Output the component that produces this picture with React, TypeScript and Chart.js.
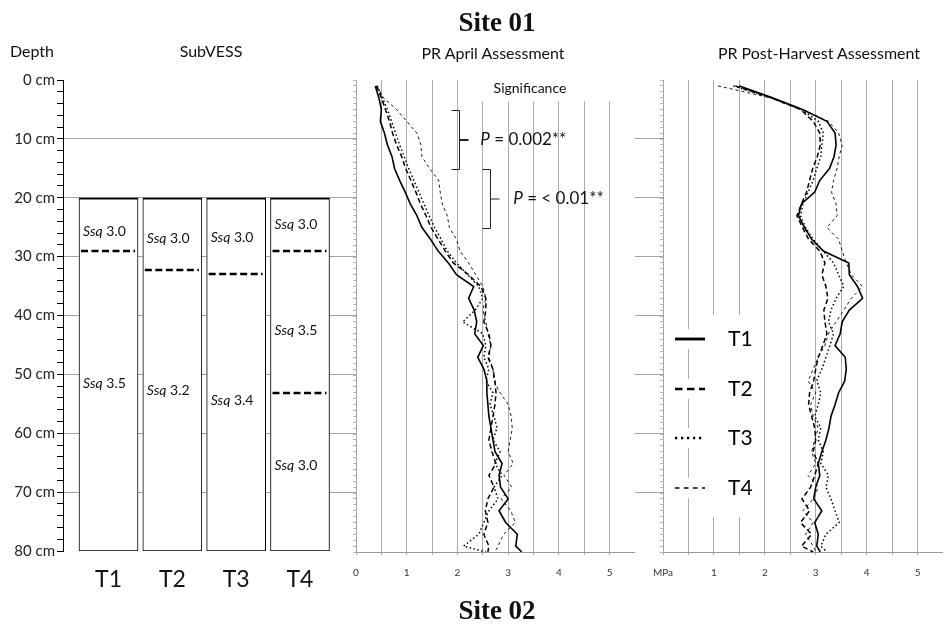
import React, { useEffect, useRef } from 'react';
import { Chart, registerables } from 'chart.js';

Chart.register(...registerables);

const FONT = 'Lato, "Open Sans", sans-serif';

// ---------- SubVESS panel ----------
const TREATMENTS = ['T1', 'T2', 'T3', 'T4'];
const TREATMENT_INDEX = [1, 2, 3, 4];
const SUBVESS_RANGE = [20, 80];
const LAYER_BOUNDARIES = [[29.1], [32.2], [32.9], [29.1, 53.1]];
const SSQ_LABEL_DEPTHS = [[25.8, 51.5], [26.9, 52.8], [26.7, 54.4], [24.6, 42.5, 65.4]];
const SSQ_SCORES = [['3.0', '3.5'], ['3.0', '3.2'], ['3.0', '3.4'], ['3.0', '3.5', '3.0']];

// ---------- Penetration resistance profiles (MPa) ----------
const DEPTHS = [1, 3, 5, 7, 9, 11, 13, 15, 17, 19, 21, 23, 25, 27, 29, 31, 33, 35, 37, 39, 41, 43, 45, 47, 49, 51, 53, 55, 57, 59, 61, 63, 65, 67, 69, 71, 73, 75, 77, 79, 80];

const APR_T1 = [0.38, 0.45, 0.50, 0.48, 0.56, 0.62, 0.71, 0.76, 0.86, 0.97, 1.07, 1.20, 1.30, 1.47, 1.62, 1.82, 1.98, 2.32, 2.22, 2.33, 2.38, 2.34, 2.51, 2.40, 2.52, 2.58, 2.58, 2.60, 2.62, 2.66, 2.70, 2.74, 2.88, 2.82, 2.85, 3.00, 2.82, 2.95, 3.18, 3.15, 3.27];
const APR_T2 = [0.40, 0.50, 0.58, 0.66, 0.72, 0.80, 0.90, 0.98, 1.08, 1.18, 1.27, 1.38, 1.48, 1.62, 1.76, 1.92, 2.22, 2.46, 2.56, 2.56, 2.52, 2.62, 2.66, 2.60, 2.70, 2.74, 2.76, 2.74, 2.70, 2.66, 2.62, 2.68, 2.76, 2.62, 2.72, 2.60, 2.55, 2.60, 2.52, 2.62, 2.60];
const APR_T3 = [0.42, 0.52, 0.62, 0.70, 0.78, 0.86, 0.95, 1.04, 1.14, 1.24, 1.34, 1.44, 1.55, 1.68, 1.80, 1.98, 2.20, 2.42, 2.50, 2.35, 2.10, 2.50, 2.56, 2.52, 2.62, 2.56, 2.70, 2.64, 2.72, 2.78, 2.70, 2.84, 2.74, 2.88, 2.72, 2.80, 2.62, 2.52, 2.42, 2.12, 2.56];
const APR_T4 = [0.41, 0.54, 0.80, 1.00, 1.20, 1.28, 1.30, 1.45, 1.63, 1.66, 1.70, 1.80, 1.84, 1.98, 2.05, 2.22, 2.36, 2.50, 2.56, 2.50, 2.56, 2.60, 2.66, 2.62, 2.70, 2.72, 2.84, 3.00, 3.06, 3.08, 3.04, 3.00, 3.10, 2.92, 3.07, 2.86, 3.05, 3.14, 2.91, 2.80, 2.74];

const PH_T1 = [1.50, 2.15, 2.74, 3.22, 3.38, 3.40, 3.36, 3.27, 3.08, 2.98, 2.72, 2.66, 2.78, 2.92, 3.15, 3.65, 3.66, 3.82, 3.92, 3.66, 3.52, 3.48, 3.38, 3.58, 3.60, 3.57, 3.45, 3.38, 3.30, 3.26, 3.20, 3.12, 3.05, 3.08, 3.00, 2.96, 3.12, 2.98, 3.05, 3.02, 3.09];
const PH_T2 = [1.42, 2.12, 2.70, 2.95, 3.08, 3.09, 3.03, 2.94, 2.88, 2.82, 2.72, 2.63, 2.74, 2.86, 3.08, 3.18, 3.12, 3.20, 3.24, 3.16, 3.18, 3.22, 3.14, 3.05, 3.00, 2.96, 2.88, 2.86, 2.92, 2.98, 3.00, 2.95, 3.05, 2.98, 2.90, 2.73, 2.88, 2.70, 2.92, 2.72, 2.95];
const PH_T3 = [1.38, 2.12, 2.72, 3.05, 3.15, 3.12, 3.10, 3.02, 2.95, 2.85, 2.75, 2.70, 2.80, 2.95, 3.15, 3.35, 3.45, 3.55, 3.40, 3.30, 3.25, 3.35, 3.28, 3.20, 3.12, 3.02, 3.10, 3.05, 2.98, 3.10, 3.05, 3.15, 3.10, 3.25, 3.20, 3.30, 3.38, 3.46, 3.20, 3.10, 3.22];
const PH_T4 = [1.08, 2.10, 2.74, 3.25, 3.45, 3.52, 3.46, 3.42, 3.35, 3.31, 3.40, 3.42, 3.22, 3.45, 3.52, 3.60, 3.70, 3.92, 3.70, 3.55, 3.40, 3.25, 3.18, 3.05, 2.95, 2.85, 3.00, 2.90, 2.95, 3.05, 2.98, 2.92, 3.00, 2.85, 3.05, 2.95, 2.75, 2.95, 2.80, 2.95, 3.00];

const SIG_RANGES = [[5, 15], [15, 25]];
const SIG_TEXT = ['= 0.002**', '= < 0.01**'];

const LINE_STYLES = [
  { width: 1.6, dash: [] as number[] },
  { width: 1.5, dash: [5, 3] },
  { width: 1.5, dash: [1.5, 2.5] },
  { width: 0.9, dash: [3, 3] },
];

const whiteAreaPlugin = {
  id: 'whiteArea',
  beforeDraw(chart: any) {
    const { ctx, chartArea: a } = chart;
    ctx.save();
    ctx.fillStyle = '#fff';
    ctx.fillRect(a.left, a.top, a.right - a.left, a.bottom - a.top);
    ctx.restore();
  },
};

const subvessPlugin = {
  id: 'subvessMarks',
  afterDatasetsDraw(chart: any) {
    const { ctx } = chart;
    const xs = chart.scales.x;
    const ys = chart.scales.y;
    const half = 29.5;
    ctx.save();
    TREATMENT_INDEX.forEach((pos, i) => {
      const cx = xs.getPixelForValue(pos);
      ctx.strokeStyle = '#000';
      ctx.lineWidth = 2.5;
      ctx.setLineDash([7, 3.5]);
      LAYER_BOUNDARIES[i].forEach((d) => {
        const py = Math.round(ys.getPixelForValue(d));
        ctx.beginPath();
        ctx.moveTo(cx - half + 2, py);
        ctx.lineTo(cx + half - 3, py);
        ctx.stroke();
      });
      ctx.setLineDash([]);
      ctx.fillStyle = '#111';
      ctx.textAlign = 'left';
      ctx.textBaseline = 'middle';
      SSQ_LABEL_DEPTHS[i].forEach((d, j) => {
        const py = ys.getPixelForValue(d);
        const x0 = cx - half + 4;
        ctx.font = `italic 14px ${FONT}`;
        ctx.fillText('Ssq', x0, py);
        const w = ctx.measureText('Ssq').width;
        ctx.font = `14px ${FONT}`;
        ctx.fillText(' ' + SSQ_SCORES[i][j], x0 + w, py);
      });
    });
    ctx.restore();
  },
};

const significancePlugin = {
  id: 'significance',
  beforeDatasetsDraw(chart: any) {
    const { ctx, chartArea } = chart;
    const xs = chart.scales.x;
    const ys = chart.scales.y;
    const l = xs.getPixelForValue(2.1);
    const r = xs.getPixelForValue(5.44);
    const t = chartArea.top;
    const b = ys.getPixelForValue(3.6);
    ctx.save();
    ctx.fillStyle = '#fff';
    ctx.fillRect(l, t, r - l, b - t);
    ctx.fillStyle = '#111';
    ctx.font = `14px ${FONT}`;
    ctx.textAlign = 'center';
    ctx.textBaseline = 'middle';
    ctx.fillText('Significance', xs.getPixelForValue(3.43), ys.getPixelForValue(1.4));
    ctx.restore();
  },
  afterDatasetsDraw(chart: any) {
    const { ctx } = chart;
    const xs = chart.scales.x;
    const ys = chart.scales.y;
    const bracketX = [2.03, 2.64];
    const textX = [2.45, 3.1];
    ctx.save();
    SIG_RANGES.forEach(([d0, d1], i) => {
      const x = Math.round(xs.getPixelForValue(bracketX[i])) + 0.5;
      const y0 = Math.round(ys.getPixelForValue(d0)) + 0.5;
      const y1 = Math.round(ys.getPixelForValue(d1)) + 0.5;
      const ym = (y0 + y1) / 2;
      ctx.strokeStyle = '#222';
      ctx.lineWidth = 1;
      ctx.beginPath();
      ctx.moveTo(x - 8, y0);
      ctx.lineTo(x, y0);
      ctx.lineTo(x, y1);
      ctx.lineTo(x - 8, y1);
      ctx.stroke();
      ctx.lineWidth = i === 0 ? 2 : 1;
      ctx.beginPath();
      ctx.moveTo(x, ym);
      ctx.lineTo(x + 9, ym);
      ctx.stroke();
      let tx = xs.getPixelForValue(textX[i]);
      ctx.fillStyle = '#111';
      ctx.textAlign = 'left';
      ctx.textBaseline = 'middle';
      ctx.font = `italic 17px ${FONT}`;
      ctx.fillText('P', tx, ym);
      tx += ctx.measureText('P').width;
      ctx.font = `17px ${FONT}`;
      ctx.fillText(' ' + SIG_TEXT[i], tx, ym);
    });
    ctx.restore();
  },
};

const legendPlugin = {
  id: 'profileLegend',
  beforeDatasetsDraw(chart: any) {
    const { ctx, chartArea } = chart;
    const left = chartArea.left;
    const top = chartArea.top;
    ctx.save();
    ctx.fillStyle = '#fff';
    ctx.fillRect(left + 35, top + 235, 60, 202);
    chart.data.datasets.forEach((ds: any, i: number) => {
      const y = Math.round(top + 259 + i * 49.5);
      ctx.fillStyle = '#fff';
      ctx.fillRect(left + 4, y - 10, 44, 20);
      ctx.strokeStyle = ds.borderColor;
      ctx.lineWidth = ds.borderWidth * 1.8;
      ctx.setLineDash((ds.borderDash || []).map((v: number) => v * 1.5));
      ctx.beginPath();
      ctx.moveTo(left + 12, y);
      ctx.lineTo(left + 42, y);
      ctx.stroke();
      ctx.setLineDash([]);
      ctx.fillStyle = '#000';
      ctx.font = `21px ${FONT}`;
      ctx.textAlign = 'left';
      ctx.textBaseline = 'middle';
      ctx.fillText(ds.label, left + 65, y);
    });
    ctx.restore();
  },
};

function subvessConfig(): any {
  return {
    type: 'bar',
    data: {
      datasets: [
        {
          label: 'SubVESS',
          data: TREATMENT_INDEX.map((p) => ({ x: p, y: SUBVESS_RANGE })),
          backgroundColor: '#fff',
          borderColor: '#000',
          borderWidth: { top: 2, right: 1, bottom: 1, left: 1 },
          borderSkipped: false,
          barThickness: 59,
        },
      ],
    },
    options: {
      animation: false,
      responsive: false,
      maintainAspectRatio: false,
      layout: { padding: { top: 80, left: 0, right: 2, bottom: 0 } },
      plugins: { legend: { display: false }, tooltip: { enabled: false } },
      scales: {
        x: {
          type: 'linear',
          min: 0.287,
          max: 14.074,
          offset: false,
          afterFit: (s: any) => { s.height = 75; s.paddingLeft = 0; s.paddingRight = 0; },
          afterBuildTicks: (s: any) => { s.ticks = TREATMENT_INDEX.map((v) => ({ value: v })); },
          ticks: {
            autoSkip: false,
            maxRotation: 0,
            padding: 15,
            color: '#111',
            font: { family: FONT, size: 23 },
            callback: (v: any) => TREATMENTS[Math.round(v) - 1] ?? '',
          },
          grid: { display: false, drawTicks: false, offset: false },
          border: { display: false },
        },
        y: {
          reverse: true,
          min: 0,
          max: 80,
          afterFit: (s: any) => { s.width = 63; },
          ticks: {
            stepSize: 2,
            autoSkip: false,
            padding: 2,
            color: '#222',
            font: { family: FONT, size: 15 },
            callback: (v: any) => (v % 10 === 0 ? `${v} cm` : ''),
          },
          grid: {
            color: (c: any) => {
              const v = c.tick ? c.tick.value : -1;
              return v % 10 === 0 && v > 0 && v < 80 ? '#a3a3a3' : 'rgba(0,0,0,0)';
            },
            tickColor: '#000',
            tickLength: 6,
          },
          border: { color: '#000' },
        },
      },
    },
    plugins: [subvessPlugin],
  };
}

function profileConfig(series: number[][], zeroLabel: string, extra: any[]): any {
  return {
    type: 'line',
    data: {
      datasets: TREATMENTS.map((t, i) => ({
        label: t,
        data: DEPTHS.map((d, k) => ({ x: series[i][k], y: d })),
        borderColor: '#000',
        borderWidth: LINE_STYLES[i].width,
        borderDash: LINE_STYLES[i].dash,
        pointRadius: 0,
        fill: false,
        tension: 0,
      })),
    },
    options: {
      animation: false,
      responsive: false,
      maintainAspectRatio: false,
      layout: { padding: { top: 80, left: 0, right: 0, bottom: 0 } },
      plugins: { legend: { display: false }, tooltip: { enabled: false } },
      scales: {
        x: {
          type: 'linear',
          position: 'bottom',
          min: 0,
          max: 5.5,
          afterFit: (s: any) => { s.height = 74; s.paddingLeft = 0; s.paddingRight = 0; },
          ticks: {
            stepSize: 0.5,
            autoSkip: false,
            maxRotation: 0,
            padding: 12,
            color: '#333',
            font: { family: FONT, size: 10 },
            callback: (v: any) => {
              if (Math.abs(v) < 1e-6) return zeroLabel;
              return Math.abs(v - Math.round(v)) < 1e-6 ? String(Math.round(v)) : '';
            },
          },
          grid: { color: '#ababab', tickColor: '#ababab', tickLength: 3, lineWidth: 1 },
          border: { color: '#999' },
        },
        y: {
          type: 'linear',
          reverse: true,
          min: 0,
          max: 80,
          afterFit: (s: any) => { s.width = 16; s.paddingTop = 0; s.paddingBottom = 0; },
          ticks: { stepSize: 1, autoSkip: false, padding: 0, callback: () => '' },
          grid: { drawOnChartArea: false, tickLength: 3, tickColor: '#b5b5b5' },
          border: { color: '#a5a5a5' },
        },
      },
    },
    plugins: [whiteAreaPlugin, ...extra],
  };
}

function Label(props: { x: number; y: number; text: string; size: number; align?: 'left' | 'center'; bold?: boolean; serif?: boolean }) {
  const { x, y, text, size, align = 'center', bold = false, serif = false } = props;
  const lh = Math.round(size * 1.3);
  const style: React.CSSProperties = {
    position: 'absolute',
    top: y - lh / 2,
    lineHeight: `${lh}px`,
    fontSize: size,
    fontFamily: serif ? '"Liberation Serif", "Times New Roman", serif' : FONT,
    fontWeight: bold ? 700 : 400,
    color: '#111',
    whiteSpace: 'nowrap',
  };
  if (align === 'center') {
    style.left = x - 300;
    style.width = 600;
    style.textAlign = 'center';
  } else {
    style.left = x;
  }
  return <div style={style}>{text}</div>;
}

export default function App() {
  const aRef = useRef<HTMLCanvasElement>(null);
  const bRef = useRef<HTMLCanvasElement>(null);
  const cRef = useRef<HTMLCanvasElement>(null);

  useEffect(() => {
    const charts: Chart[] = [];
    if (aRef.current) charts.push(new Chart(aRef.current, subvessConfig()));
    if (bRef.current)
      charts.push(new Chart(bRef.current, profileConfig([APR_T1, APR_T2, APR_T3, APR_T4], '0', [significancePlugin])));
    if (cRef.current)
      charts.push(new Chart(cRef.current, profileConfig([PH_T1, PH_T2, PH_T3, PH_T4], 'MPa', [legendPlugin])));
    return () => charts.forEach((c) => c.destroy());
  }, []);

  return (
    <div style={{ position: 'absolute', left: 0, top: 0, width: 945, height: 626, background: '#fff', overflow: 'hidden' }}>
      <canvas ref={aRef} width={945} height={626} style={{ position: 'absolute', left: 0, top: 0, width: 945, height: 626 }} />
      <canvas ref={bRef} width={295} height={626} style={{ position: 'absolute', left: 340, top: 0, width: 295, height: 626 }} />
      <canvas ref={cRef} width={296} height={626} style={{ position: 'absolute', left: 647, top: 0, width: 296, height: 626 }} />
      <Label x={497} y={22} text="Site 01" size={27} bold serif />
      <Label x={10} y={50} text="Depth" size={16} align="left" />
      <Label x={211} y={50} text="SubVESS" size={16} />
      <Label x={493} y={52} text="PR April Assessment" size={16} />
      <Label x={819} y={52} text="PR Post-Harvest Assessment" size={16} />
      <Label x={497} y={610} text="Site 02" size={27} bold serif />
    </div>
  );
}
